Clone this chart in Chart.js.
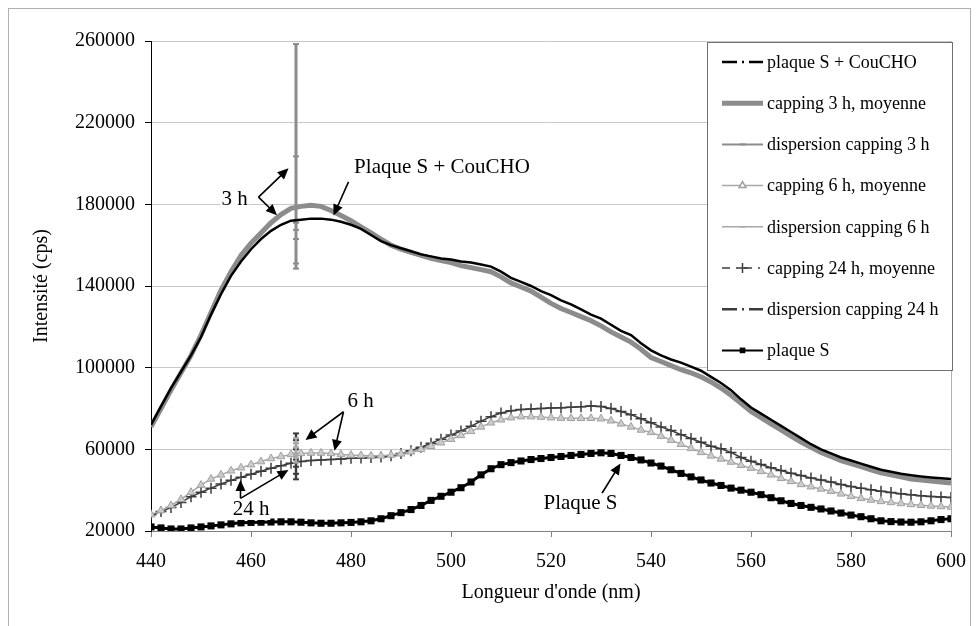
<!DOCTYPE html>
<html>
<head>
<meta charset="utf-8">
<script src="https://cdn.jsdelivr.net/npm/chart.js@4.4.1/dist/chart.umd.min.js"></script>
<style>
  body { margin: 0; background: #fff; }
  canvas { display: block; }
</style>
</head>
<body>
<canvas id="chart" width="979" height="626"></canvas>
<script>
// longueurs d'onde (nm), pas de 2 nm
const wavelengths = [440, 442, 444, 446, 448, 450, 452, 454, 456, 458,
  460, 462, 464, 466, 468, 470, 472, 474, 476, 478,
  480, 482, 484, 486, 488, 490, 492, 494, 496, 498,
  500, 502, 504, 506, 508, 510, 512, 514, 516, 518,
  520, 522, 524, 526, 528, 530, 532, 534, 536, 538,
  540, 542, 544, 546, 548, 550, 552, 554, 556, 558,
  560, 562, 564, 566, 568, 570, 572, 574, 576, 578,
  580, 582, 584, 586, 588, 590, 592, 594, 596, 598, 600];

const plaqueSCouCHO = [72000, 81000, 90000, 98000, 106000, 115000, 126000, 136000, 145000, 152000,
  158000, 163000, 167000, 170000, 172000, 172500, 173000, 173000, 172500, 171500,
  170000, 168000, 165000, 162000, 160000, 158500, 157000, 155500, 154500, 153500,
  153000, 152000, 151500, 150500, 149500, 147000, 144000, 142000, 140000, 137500,
  135500, 133000, 131000, 128500, 126000, 124000, 121000, 118000, 116000, 112000,
  108500, 106000, 104000, 102500, 100500, 98500, 95500, 92500, 89000, 84500,
  80500, 77500, 74500, 71500, 68500, 65500, 62500, 60000, 58000, 56000,
  54500, 53000, 51500, 50000, 49000, 48000, 47300, 46700, 46200, 45800, 45500];

const capping3h = [71000, 80000, 89000, 97500, 106000, 116000, 127000, 138000, 147000, 155000,
  161000, 166000, 171000, 175000, 178000, 179000, 179500, 179000, 177000, 174500,
  172000, 169000, 166000, 163000, 160000, 158000, 156500, 155000, 153500, 152500,
  151500, 150000, 149000, 148000, 147000, 144500, 141500, 139500, 137500, 134500,
  131500, 129000, 127000, 125000, 123000, 120500, 117500, 115000, 112500, 109000,
  105000, 103000, 101000, 99000, 97500, 95500, 93000, 90000, 86500, 82500,
  78500, 75500, 72500, 69500, 66500, 63500, 61000, 58500, 56500, 54500,
  53000, 51500, 50000, 48500, 47500, 46500, 45500, 45000, 44500, 44000, 43500];

const capping6h = [28000, 30000, 32500, 35500, 39000, 42500, 45500, 47500, 49500, 51000,
  52500, 54000, 55500, 56500, 57500, 58000, 58200, 58200, 58000, 57500,
  57200, 57000, 56800, 56800, 57200, 57800, 58800, 60000, 61500, 63200,
  65000, 66800, 68800, 71000, 73000, 74500, 75500, 76000, 76000, 75800,
  75500, 75300, 75200, 75200, 75200, 75000, 74000, 72500, 71000, 69500,
  68300, 66500, 64500, 62500, 60500, 58500, 56800, 55300, 53800, 52200,
  50800, 49200, 47500, 45800, 44300, 42800, 41700, 40600, 39500, 38200,
  37000, 36000, 35200, 34500, 34000, 33500, 33000, 32600, 32300, 32000, 31800];

const capping24h = [28000, 29500, 31500, 34000, 36800, 39000, 41000, 43000, 44800, 46300,
  47800, 49300, 50700, 52000, 53200, 54000, 54500, 54800, 55000, 55300,
  55600, 55800, 56000, 56200, 56800, 58000, 59300, 61000, 63000, 65000,
  67000, 69000, 71300, 73800, 76000, 77800, 78900, 79500, 79800, 80000,
  80200, 80400, 80600, 80900, 81200, 81000, 80000, 78500, 77000, 75000,
  73000, 71000, 69200, 67200, 65300, 63500, 61500, 60300, 58500, 56000,
  54200, 52600, 51000, 49600, 48300, 47200, 46000, 45000, 44000, 42800,
  41800, 41000, 40200, 39500, 38900, 38300, 37800, 37300, 36900, 36600, 36400];

const plaqueS = [22000, 21500, 21000, 21000, 21500, 22000, 22500, 23000, 23500, 24000,
  24200, 24300, 24400, 24500, 24500, 24300, 24000, 23800, 23800, 24000,
  24200, 24500, 25000, 26000, 27500, 29000, 30500, 32500, 35000, 37000,
  39000, 41200, 44000, 47500, 50500, 52500, 53500, 54300, 55000, 55500,
  56000, 56500, 57000, 57500, 58000, 58300, 58000, 57000, 56000, 54800,
  53300, 51800, 50000, 48200, 46500, 45000, 43500, 42300, 41000, 40000,
  39000, 37800, 36300, 34800, 33500, 32500, 31600, 30800, 29800, 28800,
  27800, 27000, 26000, 25000, 24600, 24400, 24300, 24500, 25000, 25600, 26000];

// dispersion des mesures, relevée à une seule longueur d'onde
const dispersionWavelength = 469;
const dispersion3h = [258500, 203500, 171000, 167500, 163000, 151000, 148500];
const dispersion6h = [65500, 63000, 61000, 58000, 56000, 53500];
const dispersion24h = [67800, 64500, 60000, 55000, 51500, 48000, 45300];

const yTicks = [20000, 60000, 100000, 140000, 180000, 220000, 260000];

const legendLabels = ["plaque S + CouCHO", "capping 3 h, moyenne", "dispersion capping 3 h",
  "capping 6 h, moyenne", "dispersion capping 6 h", "capping 24 h, moyenne",
  "dispersion capping 24 h", "plaque S"];

// annotations : texte et flèches en coordonnées des données
const notes = [
  { text: "3 h", x: 456.7, y: 182300 },
  { text: "Plaque S + CouCHO", x: 498.2, y: 198000 },
  { text: "6 h", x: 481.9, y: 83300 },
  { text: "24 h", x: 460, y: 30300 },
  { text: "Plaque S", x: 525.9, y: 33500 }
];
const arrows = [
  [461.5, 183500, 467.5, 197700],
  [461.5, 183500, 465.2, 174700],
  [479.5, 191000, 476.5, 174500],
  [478.5, 78400, 470.9, 64600],
  [478.5, 78400, 476.7, 59300],
  [457.9, 36000, 457.9, 45000],
  [457.9, 36000, 467.5, 49900],
  [530.2, 38500, 533.9, 53100]
];

function toPoints(values) {
  return values.map((v, i) => ({ x: wavelengths[i], y: v }));
}
function dispPoints(values) {
  return values.map(v => ({ x: dispersionWavelength, y: v }));
}

const SERIF = "'Liberation Serif', 'Times New Roman', serif";
Chart.defaults.font.family = SERIF;
Chart.defaults.color = "#000";

const datasets = [
  { data: toPoints(plaqueSCouCHO), borderColor: "#000", borderWidth: 2.5, pointRadius: 0,
    lg: { dash: [15, 5, 2, 5], width: 2.5 } },
  { data: toPoints(capping3h), borderColor: "#8c8c8c", borderWidth: 5, pointRadius: 0,
    lg: { width: 5 } },
  { data: dispPoints(dispersion3h), borderColor: "#8c8c8c", borderWidth: 3,
    pointStyle: "line", pointRadius: 3, pointBorderColor: "#8c8c8c", pointBorderWidth: 2,
    lg: { width: 2, marker: "line", r: 3 } },
  { data: toPoints(capping6h), borderColor: "#a8a8a8", borderWidth: 1.5,
    pointStyle: "triangle", pointRadius: 4.5, pointBorderColor: "#a0a0a0",
    pointBackgroundColor: "#cccccc", pointBorderWidth: 1,
    lg: { width: 1.5, marker: "triangle", r: 4, fill: "#fff" } },
  { data: dispPoints(dispersion6h), borderColor: "#a8a8a8", borderWidth: 2,
    pointStyle: "line", pointRadius: 3, pointBorderColor: "#a8a8a8", pointBorderWidth: 2,
    lg: { width: 1.5, marker: "line", r: 3 } },
  { data: toPoints(capping24h), borderColor: "#3c3c3c", borderWidth: 1.5,
    pointStyle: "cross", pointRadius: 5.5, pointBorderColor: "#3c3c3c", pointBorderWidth: 1.5,
    lg: { dash: [8, 6, 2, 6], width: 1.5, marker: "cross", r: 5 } },
  { data: dispPoints(dispersion24h), borderColor: "#3c3c3c", borderWidth: 2.5,
    pointStyle: "line", pointRadius: 3, pointBorderColor: "#3c3c3c", pointBorderWidth: 2,
    lg: { dash: [15, 5, 2, 5], width: 2.5 } },
  { data: toPoints(plaqueS), borderColor: "#000", borderWidth: 3,
    pointStyle: "rect", pointRadius: 5, pointBorderColor: "#000",
    pointBackgroundColor: "#000", pointBorderWidth: 0,
    lg: { width: 2, marker: "rect", r: 4, fill: "#000" } }
];
datasets.forEach((d, i) => { d.label = legendLabels[i]; d.tension = 0; d.fill = false; });

function drawArrow(ctx, x0, y0, x1, y1) {
  const a = Math.atan2(y1 - y0, x1 - x0);
  const len = 11, hw = 5;
  ctx.beginPath();
  ctx.moveTo(x0, y0);
  ctx.lineTo(x1 - Math.cos(a) * len * 0.8, y1 - Math.sin(a) * len * 0.8);
  ctx.stroke();
  ctx.beginPath();
  ctx.moveTo(x1, y1);
  ctx.lineTo(x1 - Math.cos(a) * len - Math.sin(a) * hw, y1 - Math.sin(a) * len + Math.cos(a) * hw);
  ctx.lineTo(x1 - Math.cos(a) * len + Math.sin(a) * hw, y1 - Math.sin(a) * len - Math.cos(a) * hw);
  ctx.closePath();
  ctx.fill();
}

const extras = {
  id: "extras",
  afterDraw(chart) {
    const ctx = chart.ctx;
    const xs = chart.scales.x, ys = chart.scales.y;
    const area = chart.chartArea;
    ctx.save();
    // cadre du graphique et bord droit de la zone de tracé
    ctx.strokeStyle = "#b0b0b0";
    ctx.lineWidth = 1;
    ctx.strokeRect(8.5, 8.5, 962, 640);
    ctx.beginPath();
    ctx.moveTo(Math.round(area.right) + 0.5, area.top);
    ctx.lineTo(Math.round(area.right) + 0.5, area.bottom);
    ctx.stroke();

    // annotations
    ctx.fillStyle = "#000";
    ctx.strokeStyle = "#000";
    ctx.lineWidth = 1.6;
    arrows.forEach(a => drawArrow(ctx, xs.getPixelForValue(a[0]), ys.getPixelForValue(a[1]),
      xs.getPixelForValue(a[2]), ys.getPixelForValue(a[3])));
    ctx.font = "21px " + SERIF;
    ctx.textAlign = "center";
    ctx.textBaseline = "middle";
    notes.forEach(n => {
      const px = xs.getPixelForValue(n.x), py = ys.getPixelForValue(n.y);
      const w = ctx.measureText(n.text).width;
      ctx.fillStyle = "#fff";
      ctx.fillRect(px - w / 2 - 1, py - 10, w + 2, 20);
      ctx.fillStyle = "#000";
      ctx.fillText(n.text, px, py);
    });

    // légende
    const bx = 707, by = 42, bw = 245, bh = 328;
    ctx.fillStyle = "#fff";
    ctx.fillRect(bx, by, bw, bh);
    ctx.strokeStyle = "#707070";
    ctx.lineWidth = 1;
    ctx.strokeRect(bx + 0.5, by + 0.5, bw, bh);
    ctx.font = "18px " + SERIF;
    ctx.textAlign = "left";
    chart.data.datasets.forEach((d, i) => {
      const cy = 62 + i * 41.2;
      const lg = d.lg;
      ctx.strokeStyle = d.borderColor;
      ctx.lineWidth = lg.width;
      ctx.setLineDash(lg.dash || []);
      ctx.beginPath();
      ctx.moveTo(722, cy);
      ctx.lineTo(763, cy);
      ctx.stroke();
      ctx.setLineDash([]);
      if (lg.marker) {
        ctx.fillStyle = lg.fill || d.borderColor;
        ctx.strokeStyle = d.pointBorderColor || d.borderColor;
        Chart.helpers.drawPoint(ctx, { pointStyle: lg.marker, radius: lg.r, rotation: 0,
          borderWidth: lg.marker === "rect" ? 0 : 1.5 }, 742.5, cy);
      }
      ctx.fillStyle = "#000";
      ctx.fillText(d.label, 767, cy + 1);
    });
    ctx.restore();
  }
};

new Chart(document.getElementById("chart"), {
  type: "line",
  data: { datasets: datasets },
  options: {
    responsive: false,
    animation: false,
    devicePixelRatio: 1,
    layout: { padding: { top: 41, right: 28, left: 0, bottom: 0 } },
    plugins: { legend: { display: false }, tooltip: { enabled: false } },
    scales: {
      x: {
        type: "linear",
        min: 440, max: 600,
        afterFit: s => { s.height = 95; },
        ticks: { stepSize: 20, padding: 13, font: { size: 20 }, color: "#000" },
        grid: { drawOnChartArea: false, tickLength: 6, color: "#808080" },
        border: { color: "#808080" },
        title: { display: true, text: "Longueur d'onde (nm)", font: { size: 20 },
          color: "#000", padding: { top: 0, bottom: 21 } }
      },
      y: {
        min: 20000, max: 260000,
        afterFit: s => { s.width = 151; },
        afterBuildTicks: s => { s.ticks = yTicks.map(v => ({ value: v })); },
        ticks: { padding: 10, font: { size: 20 }, color: "#000", callback: v => String(v) },
        grid: { color: "#c8c8c8", tickLength: 6, tickColor: "#000" },
        border: { color: "#000" },
        title: { display: true, text: "Intensité (cps)", font: { size: 20 },
          color: "#000", padding: { top: 30, bottom: 0 } }
      }
    }
  },
  plugins: [extras]
});
</script>
</body>
</html>
